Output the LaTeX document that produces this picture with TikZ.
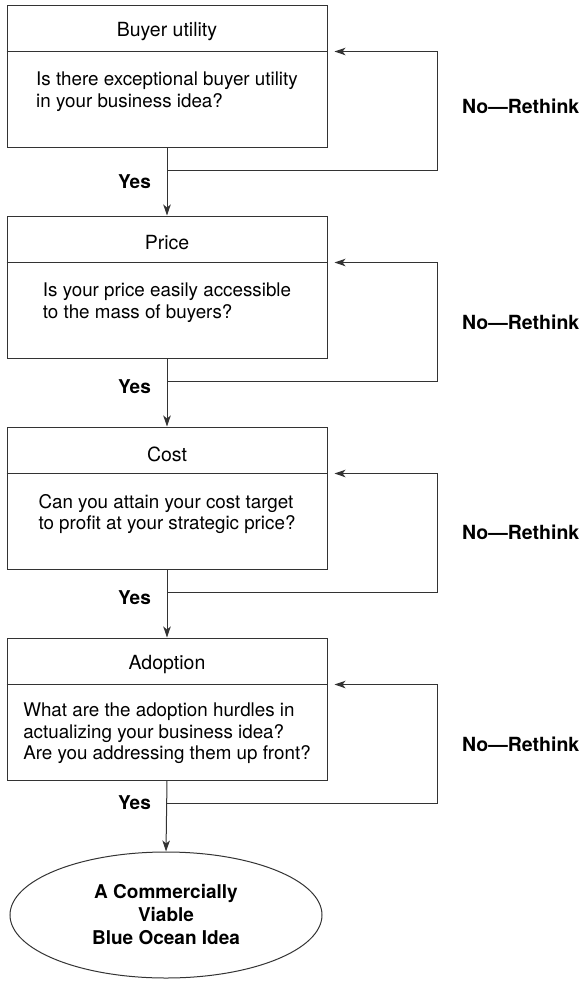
\documentclass[tikz,border=0pt]{standalone}
\usepackage{fontspec}
\setmainfont{TeX Gyre Heros}
\usetikzlibrary{arrows.meta,shapes,positioning,calc}

\begin{document}
\begin{tikzpicture}[x=1pt,y=-1pt,
    stage/.style={draw=black!80, line width=1pt, minimum width=320pt, minimum height=142pt, inner sep=0pt},
    stagetitle/.style={font=\fontsize{19.5}{22}\selectfont},
    question/.style={font=\fontsize{18.8}{21.5}\selectfont, align=left, anchor=north, inner sep=0pt},
    yes/.style={font=\fontsize{19}{22}\selectfont\bfseries, anchor=east, inner sep=0pt},
    rethink/.style={font=\fontsize{19.5}{22}\selectfont\bfseries, anchor=west, inner sep=0pt},
    flow/.style={->, draw=black!80, line width=1pt},
    >={Stealth[length=11pt,width=7.5pt,inset=3pt]}]
    \useasboundingbox (0,0) rectangle (584,983);

    % Stage 1
    \node[stage] (s1) at (167,76) {};
    \draw[black!80, line width=1pt] ($(s1.north west)+(0,47)$) -- ($(s1.north east)+(0,47)$);
    \node[stagetitle] (t1) at (167,32) {Buyer utility};
    \node[question] (q1) at (167,72) {Is there exceptional buyer utility\\in your business idea?};

    % Stage 2
    \node[stage] (s2) at (167,287) {};
    \draw[black!80, line width=1pt] ($(s2.north west)+(0,47)$) -- ($(s2.north east)+(0,47)$);
    \node[stagetitle] (t2) at (167,243) {Price};
    \node[question] (q2) at (167,283) {Is your price easily accessible\\to the mass of buyers?};

    % Stage 3
    \node[stage] (s3) at (167,498) {};
    \draw[black!80, line width=1pt] ($(s3.north west)+(0,47)$) -- ($(s3.north east)+(0,47)$);
    \node[stagetitle] (t3) at (167,454) {Cost};
    \node[question] (q3) at (167,494) {Can you attain your cost target\\to profit at your strategic price?};

    % Stage 4
    \node[stage] (s4) at (167,709) {};
    \draw[black!80, line width=1pt] ($(s4.north west)+(0,47)$) -- ($(s4.north east)+(0,47)$);
    \node[stagetitle] (t4) at (167,665) {Adoption};
    \node[question] (q4) at (167,703) {What are the adoption hurdles in\\actualizing your business idea?\\Are you addressing them up front?};

    % Goal
    \node[ellipse, draw=black!80, line width=1pt, minimum width=312pt, minimum height=126pt,
          align=center, font=\fontsize{19}{23}\selectfont\bfseries] (goal) at (166,915)
          {A Commercially\\Viable\\Blue Ocean Idea};

    % Yes arrows
    \draw[flow] (s1.south) -- (s2.north);
    \draw[flow] (s2.south) -- (s3.north);
    \draw[flow] (s3.south) -- (s4.north);
    \draw[flow] (s4.south) -- (goal.north);
    \node[yes] (y1) at (151,182) {Yes};
    \node[yes] (y2) at (151,387) {Yes};
    \node[yes] (y3) at (151,598) {Yes};
    \node[yes] (y4) at (151,803) {Yes};

    % Rethink loops
    \coordinate (j1) at ($(s1.south)+(0,23)$);
    \coordinate (j2) at ($(s2.south)+(0,23)$);
    \coordinate (j3) at ($(s3.south)+(0,23)$);
    \coordinate (j4) at ($(s4.south)+(0,23)$);
    \coordinate (in1) at ($(s1.north east)+(7,47)$);
    \coordinate (in2) at ($(s2.north east)+(7,47)$);
    \coordinate (in3) at ($(s3.north east)+(7,47)$);
    \coordinate (in4) at ($(s4.north east)+(7,47)$);
    \draw[flow] (j1) -- ++(270,0) |- (in1);
    \draw[flow] (j2) -- ++(270,0) |- (in2);
    \draw[flow] (j3) -- ++(270,0) |- (in3);
    \draw[flow] (j4) -- ++(270,0) |- (in4);
    \node[rethink] (n1) at (462,106) {No---Rethink};
    \node[rethink] (n2) at (462,322) {No---Rethink};
    \node[rethink] (n3) at (462,532) {No---Rethink};
    \node[rethink] (n4) at (462,744) {No---Rethink};
\end{tikzpicture}
\end{document}
